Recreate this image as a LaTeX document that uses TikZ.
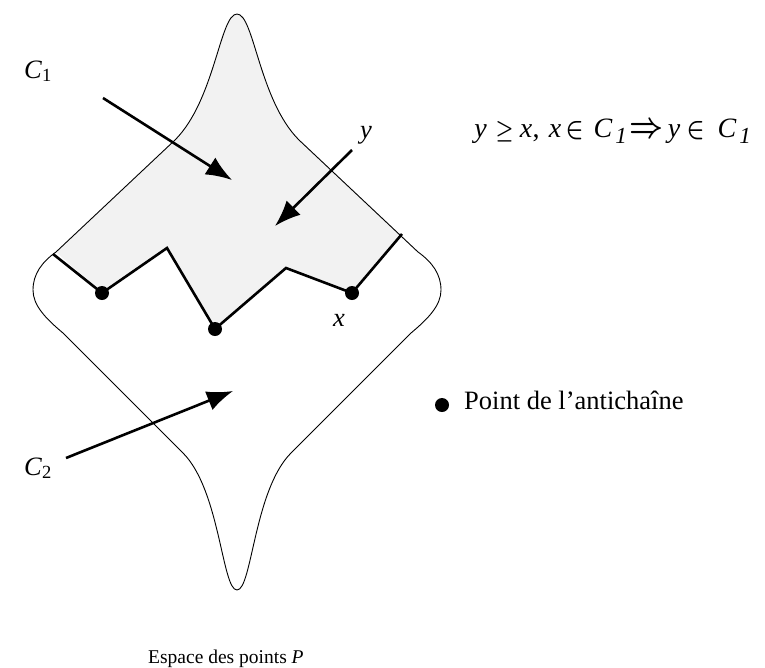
\documentclass[tikz,border=0pt]{standalone}
\usepackage{fontspec}
\setmainfont{Liberation Serif}
\usepackage{tikz}
\usetikzlibrary{positioning, arrows.meta, calc}
\newcommand{\gl}[2]{\makebox[0pt]{#2}\hspace{#1pt}}
\newcommand{\subone}{\raisebox{-6pt}{\fontsize{23}{23}\selectfont\textit{1}}}
\newcommand{\sgeq}{\resizebox{18pt}{16pt}{$\boldsymbol{\geq}$}}
\newcommand{\selem}{\resizebox{18pt}{16pt}{$\boldsymbol{\in}$}}
\newcommand{\simp}{\resizebox{34pt}{14pt}{$\boldsymbol{\Rightarrow}$}}
\usepackage{amsmath}
\tikzset{
  outline/.style = {draw, line width=0.9pt},
  chain/.style   = {draw, line width=2.6pt, line join=miter},
  pt/.style      = {circle, fill, inner sep=0pt, minimum size=14pt},
  ar/.style      = {-{Latex[length=26pt, width=20pt]}, line width=2.6pt},
  lbl/.style     = {font=\fontsize{26.5}{31}\selectfont, inner sep=0pt},
}

\begin{document}
\begin{tikzpicture}[x=1pt, y=-1pt]
  \useasboundingbox (0,0) rectangle (765,667);
  % upper set C1 (shaded)
  \fill[black!5] (56,252) -- (175,140) .. controls (215,100) and (220,14) .. (237,14)
    .. controls (254,14) and (259,100) .. (299,140) -- (401,235)
    -- (352,293) -- (286,268) -- (215,328) -- (167,248) -- (102,293) -- cycle;
  % space P
  \draw[outline] (237,14) .. controls (254,14) and (259,100) .. (299,140)
    -- (418,252) .. controls (432,262) and (441,274) .. (441,290)
    .. controls (441,305) and (429,318) .. (411,333)
    -- (291,453) .. controls (254,490) and (252,590) .. (237,590)
    .. controls (222,590) and (220,490) .. (183,453)
    -- (63,333) .. controls (45,318) and (33,305) .. (33,290)
    .. controls (33,274) and (42,262) .. (56,252)
    -- (175,140) .. controls (215,100) and (220,14) .. (237,14) -- cycle;
  % antichain
  \coordinate (a0) at (53,254);
  \node[pt] (p1) at (102,293) {};
  \coordinate (a1) at (167,248);
  \node[pt] (p2) at (215,329) {};
  \coordinate (a2) at (286,268);
  \node[pt] (p3) at (352,293) {};
  \coordinate (a3) at (402,234);
  \draw[chain] (a0) -- (p1.center) -- (a1) -- (p2.center) -- (a2) -- (p3.center) -- (a3);
  % labels
  \node[lbl, anchor=base west] (c1) at (24,78) {\textit{C}\textsubscript{1}};
  \node[lbl, anchor=base west] (c2) at (24,475) {\textit{C}\textsubscript{2}};
  \node[lbl, anchor=base west] (ly) at (360,138) {\textit{y}};
  \node[lbl, anchor=base west] (lx) at (333,326) {\textit{x}};
  \node[lbl, font=\fontsize{28}{32}\selectfont, anchor=base west] (rule) at (480.5,137)
    {\gl{24}{\textit{y}}\gl{21.5}{\sgeq}\gl{10}{\textit{x}}\gl{19}{,}\gl{19.5}{\textit{x}}%
     \gl{28.5}{\selem}\gl{18}{\textit{C}}\gl{25.5}{\subone}\gl{27.5}{\simp}\gl{21.5}{\textit{y}}%
     \gl{31.5}{\selem}\gl{18}{\textit{C}}\gl{0}{\subone}};
  \node[pt] (key) at (442,405) {};
  \node[lbl, anchor=base west] (keytxt) at (464,409) {Point de l’antichaîne};
  \node[lbl, font=\fontsize{19.5}{23}\selectfont, anchor=base west] (space) at (148,663)
    {Espace des points \textit{P}};
  % arrows
  \coordinate (s1) at (103,98);
  \coordinate (e1) at (232,180);
  \coordinate (s2) at (352,150);
  \coordinate (e2) at (275,226);
  \coordinate (s3) at (66,458);
  \coordinate (e3) at (233,391);
  \draw[ar] (s1) -- (e1);
  \draw[ar] (s2) -- (e2);
  \draw[ar] (s3) -- (e3);
\end{tikzpicture}
\end{document}
